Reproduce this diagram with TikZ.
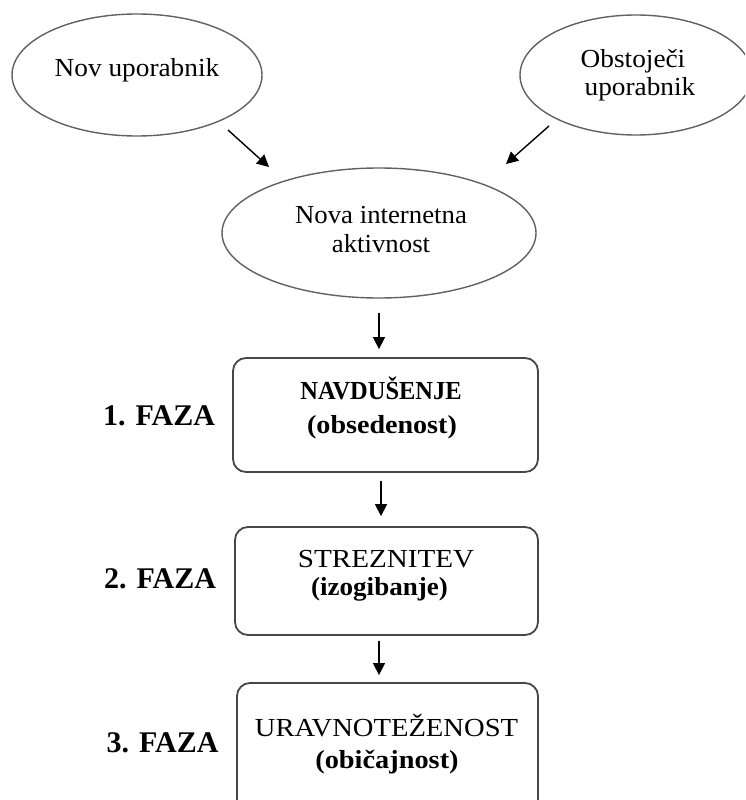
\documentclass[tikz,border=0pt]{standalone}
\usepackage{fontspec}
\usepackage{graphicx}
\setmainfont{Liberation Serif}
\usetikzlibrary{shapes.geometric,arrows.meta}
\newcommand{\wx}[2]{\scalebox{#1}[1]{#2}}
\begin{document}
\begin{tikzpicture}[x=1pt,y=1pt,
  oval/.style={draw=black!62, line width=1.4pt, ellipse, inner sep=0pt},
  stagebox/.style={draw=black!72, line width=1.8pt, rounded corners=13pt, inner sep=0pt},
  arr/.style={-{Triangle[length=12pt,width=12pt]}, line width=1.4pt},
  txt/.style={anchor=base, inner sep=0pt, font=\fontsize{26}{30}\selectfont},
  btxt/.style={anchor=base, inner sep=0pt, font=\fontsize{26}{30}\selectfont\bfseries},
  faza/.style={anchor=base, inner sep=0pt, font=\fontsize{30}{34}\selectfont\bfseries}]
\useasboundingbox (0,0) rectangle (745,-800);
\clip (0,0) rectangle (745,-800);
% ellipses
\node[oval, minimum width=250, minimum height=122] (nov) at (137,-75) {};
\node[txt] (tnov) at (137,-77) {\wx{1.05}{Nov uporabnik}};
\node[oval, minimum width=232, minimum height=120] (obs) at (636,-75) {};
\node[txt] (tobs1) at (633,-67) {\wx{1.05}{Obstoječi}};
\node[txt] (tobs2) at (640,-95) {\wx{1.05}{uporabnik}};
\node[oval, minimum width=314, minimum height=130] (akt) at (379,-233) {};
\node[txt] (takt1) at (381,-223) {\wx{1.03}{Nova internetna}};
\node[txt] (takt2) at (381,-252) {\wx{1.03}{aktivnost}};
% boxes
\node[stagebox, minimum width=305, minimum height=114] (f1) at (385.5,-415) {};
\node[btxt] (t11) at (381,-399) {\wx{0.94}{NAVDUŠENJE}};
\node[btxt] (t12) at (382,-433) {\wx{1.08}{(obsedenost)}};
\node[stagebox, minimum width=303, minimum height=108] (f2) at (386.5,-581) {};
\node[txt] (t21) at (386,-567) {\wx{1.12}{STREZNITEV}};
\node[btxt] (t22) at (379.5,-595) {\wx{1.04}{(izogibanje)}};
\node[stagebox, minimum width=301, minimum height=130] (f3) at (387.5,-748) {};
\node[txt] (t31) at (386.5,-736) {\wx{1.1}{URAVNOTEŽENOST}};
\node[btxt] (t32) at (387,-768) {\wx{1.09}{(običajnost)}};
% phase labels
\node[faza] (p1) at (159,-425) {1. FAZA};
\node[faza] (p2) at (160,-588) {2. FAZA};
\node[faza] (p3) at (162.5,-752) {3. FAZA};
% arrows
\coordinate (a1s) at (228,-130);
\coordinate (a1e) at (269,-167);
\coordinate (a2s) at (549,-126);
\coordinate (a2e) at (506,-164);
\draw[arr] (a1s) -- (a1e);
\draw[arr] (a2s) -- (a2e);
\coordinate (d1s) at ([yshift=-14pt]akt.south);
\coordinate (d2s) at ([xshift=-4.5pt,yshift=-8pt]f1.south);
\coordinate (d3s) at ([xshift=-7.5pt,yshift=-5pt]f2.south);
\draw[arr, shorten >=8pt] (d1s) -- (d1s |- f1.north);
\draw[arr, shorten >=10pt] (d2s) -- (d2s |- f2.north);
\draw[arr, shorten >=7pt] (d3s) -- (d3s |- f3.north);
\end{tikzpicture}
\end{document}
